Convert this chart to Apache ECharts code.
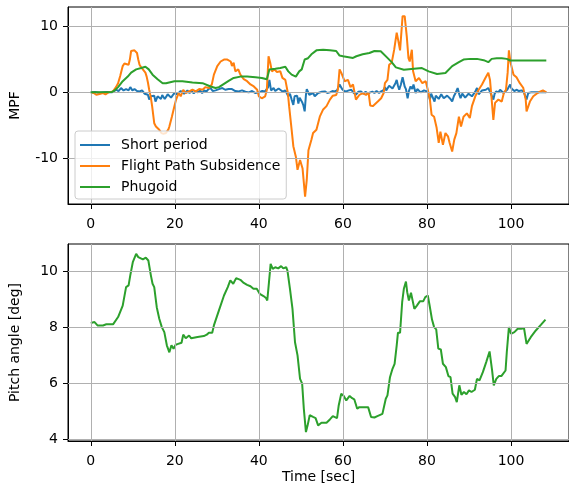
<!DOCTYPE html>
<html>
<head>
<meta charset="utf-8">
<script src="https://cdn.jsdelivr.net/npm/echarts@6/dist/echarts.min.js"></script>
<style>
html,body{margin:0;padding:0;background:#fff;}
#chart{width:569px;height:487px;}
</style>
</head>
<body>
<div id="chart"></div>
<script>
// ---- Data ----
var seriesNames = ['Short period', 'Flight Path Subsidence', 'Phugoid'];

var spT = [0,1,2,3,4,5,6.1,6.6,7.2,7.8,8.4,9.0,9.4,9.9,10.4,11.0,11.6,12.2,12.8,13.6,13.9,14.3,14.7,15.1,15.4,15.9,16.3,16.7,17.0,17.3,17.6,17.9,18.3,18.7,19.1,19.5,19.9,20.3,20.6,21.0,21.4,21.8,22.2,22.6,23.0,23.5,24.0,24.5,25.0,25.5,26.0,26.5,27.0,27.5,28.0,28.5,29.0,29.7,30.5,31.3,32.0,32.8,33.6,34.4,35.2,36.0,36.8,37.6,38.4,39.2,40.0,40.8,41.5,42.2,42.5,42.9,43.5,43.9,44.3,44.7,45.1,45.7,46.3,46.7,47.0,47.4,47.8,48.2,48.5,48.8,49.1,49.4,49.7,50.0,50.3,50.6,50.9,51.2,51.4,51.7,52.0,52.4,52.9,53.3,53.7,54.1,54.5,55.0,55.7,56.3,56.9,57.5,58.0,58.6,59.2,59.8,60.3,60.8,61.4,62.0,62.6,63.1,63.7,64.3,64.9,65.4,65.9,66.5,67.0,67.5,68.0,68.6,69.1,69.6,70.0,70.3,70.6,71.0,71.4,71.8,72.2,72.5,72.8,73.1,73.4,73.8,74.2,74.7,75.0,75.4,75.7,76.1,76.5,76.8,77.3,77.7,78.1,78.5,78.9,79.3,79.7,80.2,80.7,81.0,81.3,81.8,82.1,82.4,82.8,83.1,83.4,83.6,84.0,84.4,84.8,85.2,85.6,86.0,86.4,86.8,87.3,87.7,88.0,88.4,88.7,89.1,89.5,89.9,90.3,90.7,91.1,91.5,91.9,92.3,92.7,93.1,93.5,94.0,94.6,95.0,95.4,95.8,96.1,96.5,97.0,97.4,97.8,98.2,98.6,99.1,99.5,99.8,100.1,100.4,100.8,101.3,101.9,102.5,103.0,103.3,103.7,104.1,104.7,105.3,106.5,107.5,108.4];
var spV = [0,0.05,-0.05,0,0.05,0,0.4,0.2,0.66,0.3,0.5,0.3,0.8,0.3,0.5,0.2,0.15,0.3,-0.2,-0.36,-1.1,-0.6,-0.9,-0.5,-1.4,-0.6,-0.9,-1.0,-0.4,-0.5,-1.0,-1.0,-0.3,-0.36,-0.8,-0.6,-0.1,0.15,-0.3,-0.2,0.2,0.4,-0.2,0,0.3,-0.1,0.2,-0.15,0.2,0,0.3,-0.1,0.3,0.1,0.5,0.66,0.2,0.3,0.5,0.66,0.4,0.5,0.5,0.2,0.15,0.3,0.1,0,0.2,-0.1,0,0.2,0.15,0.8,1.9,0.3,0.66,0.2,0.3,0.6,0.4,0.1,0.3,0.1,-0.6,-0.2,-1.1,-1.9,-0.6,-0.9,-0.5,-1.7,-0.8,-1.1,-1.5,-2.0,-2.9,-0.4,0.5,0.3,-0.36,-0.6,-0.1,-0.6,-0.4,-0.1,-0.2,0.1,0.15,-0.1,0,0.2,0.15,0.3,1.2,0.5,0.2,0.15,0.3,0.4,-0.1,-0.36,0.1,0.15,-0.2,0.1,-0.2,0,0.1,-0.1,0.2,-0.1,0.15,0.3,0.8,0.3,0.5,1.0,1.2,0.6,0.8,1.4,1.9,1.0,0.4,1.2,2.3,0.9,0.5,-0.9,0.2,0.9,0.5,1.2,-0.1,0.5,0.4,0,0.15,0.3,0,0.1,-1.1,-0.2,-0.36,-1.4,-0.5,-0.36,-1.0,-1.1,-0.3,-0.6,-0.9,-1.1,-0.5,-0.36,-1.0,-1.4,-0.6,-0.1,0.66,-0.3,-0.9,-0.2,-0.36,-0.8,-0.6,-0.2,-0.1,-0.6,-0.5,0.1,0.66,-0.3,-0.2,0.3,0.15,0.4,0.66,0.1,0.3,-1.1,-0.2,0.15,0,0.4,0.3,-0.1,-0.36,0.4,0.7,1.2,0.6,0.3,0.2,0.4,0.2,0.3,0.1,0.15,-1.1,-0.1,0,0,0,0,0];

var fpsT = [0,0.7,1.3,2.1,2.9,3.5,4.2,5.3,6.0,6.5,7.0,7.6,8.0,8.4,9.0,9.3,9.6,10.0,10.4,11.0,11.3,11.6,12.0,12.4,13.0,13.3,13.6,13.9,14.3,14.6,15.1,15.5,16.3,16.8,17.3,17.9,18.5,18.7,19.3,19.9,20.3,20.9,21.4,22.0,22.6,23.4,24.2,25.0,25.8,26.6,27.3,28.1,28.8,29.3,30.1,30.9,31.7,32.5,33.3,33.6,34.0,34.4,35.1,35.6,36.4,37.2,38.0,38.8,39.6,40.0,40.7,41.5,41.9,42.3,42.7,43.1,43.7,44.3,45.1,45.6,46.3,46.9,47.2,47.8,48.2,48.8,49.2,49.8,50.4,51.0,51.4,51.8,52.5,52.9,53.7,54.5,55.3,56.1,56.9,57.6,58.4,58.8,59.2,59.6,60.4,61.2,61.8,62.4,63.1,63.9,64.7,65.5,66.1,66.5,67.1,68.3,69.1,69.7,70.0,70.6,71.0,71.6,72.2,72.8,73.2,73.6,74.2,74.7,75.2,75.6,75.9,76.4,76.7,77.3,78.1,78.9,79.7,80.2,80.7,81.1,81.7,82.3,82.8,83.2,83.8,84.4,85.0,85.4,86.0,86.5,87.0,87.6,88.1,88.7,89.5,90.2,90.7,91.5,92.3,93.1,93.9,94.6,95.0,95.4,95.8,96.2,97.0,97.8,98.3,98.8,99.2,99.5,99.9,100.6,101.3,102.1,102.9,103.5,103.7,104.5,105.3,106.1,106.9,107.6,108.4];
var fpsV = [0,-0.1,-0.36,-0.25,-0.1,-0.3,0,0.15,0.8,1.4,2.5,4.0,4.4,4.5,4.2,5.0,6.3,6.1,6.4,6.0,5.0,4.2,3.8,3.5,3.0,2.4,1.5,0.4,-0.8,-2.1,-4.7,-5.2,-5.7,-6.2,-6.3,-6.2,-5.6,-5.2,-3.7,-2.1,-1.1,-0.1,-0.6,0.4,-0.1,0.15,0.4,0.15,0.5,0.4,0.8,0.66,1.2,2.7,4.0,4.7,5.0,5.0,4.7,4.0,4.5,3.2,3.5,2.7,2.0,1.7,1.2,0.9,0.4,-0.6,-0.9,-0.6,0.4,5.5,4.5,3.2,3.5,3.1,3.2,2.2,1.9,-0.1,-2.1,-5.7,-8.2,-9.8,-11.8,-10.3,-11.6,-15.9,-13.3,-8.8,-7.2,-6.2,-5.7,-3.7,-2.6,-2.1,-1.1,-0.5,-0.4,0.4,3.5,3.0,1.7,1.9,0.8,1.2,-1.1,-0.4,-0.1,-0.4,0,-2.0,-2.1,-1.4,-0.9,-0.1,1.4,1.9,4.2,4.5,6.5,9.1,7.8,6.4,11.6,11.6,8.5,5.2,4.7,6.5,3.2,1.7,2.2,1.4,1.7,0.4,-1.1,-3.4,-3.7,-5.4,-7.7,-6.0,-8.0,-6.2,-6.7,-7.7,-9.0,-7.2,-6.2,-3.7,-5.2,-3.7,-3.2,-3.9,-2.1,-0.6,0.4,1.2,2.2,3.0,1.9,-1.1,-4.2,-1.6,-1.1,-1.4,-0.1,0.4,3.0,6.4,4.5,2.7,2.3,1.4,0.7,-1.1,-2.9,-1.4,-0.6,-0.2,0.1,0.3,0];

var phT = [0,5.0,5.7,6.5,7.6,8.8,9.6,10.8,12.0,13.0,13.8,14.7,15.9,17.1,17.9,19.9,21.8,24.2,26.6,28.5,29.7,30.5,31.7,32.9,34.0,35.6,37.2,39.2,40.7,41.9,42.5,43.9,45.1,46.3,47.0,47.8,48.8,49.6,50.2,50.9,51.7,52.5,53.7,55.3,56.9,58.4,59.2,60.0,62.4,63.2,64.7,66.3,67.5,69.0,70.6,71.6,72.6,74.5,76.9,78.8,80.4,82.4,84.4,86.0,87.6,88.7,90.3,91.9,93.5,94.6,95.4,96.6,97.8,99.0,99.8,108.4];
var phV = [0,0.05,0.3,0.8,1.7,2.4,3.0,3.5,3.7,3.9,3.5,2.7,2.0,1.4,1.4,1.7,1.7,1.5,1.4,0.9,0.66,0.8,1.3,1.8,2.2,2.4,2.4,2.3,2.2,2.0,3.5,3.6,3.7,3.9,3.2,2.7,2.4,3.2,3.5,5.0,5.2,5.8,6.4,6.5,6.4,6.3,5.6,5.5,5.25,5.5,5.8,6.0,6.3,6.26,5.25,4.6,3.8,3.45,3.6,3.7,3.2,2.8,2.95,4.0,4.6,5.0,5.1,5.1,4.9,4.6,5.1,5.2,5.2,5.1,4.85,4.85];

var pitchT = [0,0.9,1.6,2.9,3.7,5.3,6.5,7.6,8.4,9.0,9.4,10.0,10.8,11.3,12.4,13.1,13.7,14.3,14.7,15.1,15.7,16.3,16.9,17.5,18.1,18.7,19.2,19.7,20.2,20.8,21.6,22.0,22.6,23.4,23.9,25.4,26.9,27.6,28.1,28.9,29.3,30.5,31.7,32.6,33.2,33.9,34.6,35.6,36.4,37.2,38.0,38.7,39.5,40.2,41.1,41.7,42.0,42.4,42.8,43.3,43.9,44.6,45.3,45.8,46.5,46.8,47.4,48.0,48.6,49.2,49.8,50.3,50.7,51.2,51.6,52.1,52.9,53.5,54.1,54.9,56.1,56.9,57.6,58.0,58.6,59.0,59.6,60.2,60.8,61.6,62.2,62.7,63.4,63.9,64.7,65.5,66.0,66.7,67.5,68.2,69.4,70.2,70.6,71.2,71.8,72.3,72.8,73.1,73.6,74.1,74.5,75.0,75.3,75.7,76.2,77.0,77.6,78.3,79.1,79.6,80.2,80.6,81.2,81.7,82.2,82.7,83.3,83.8,84.5,85.1,85.6,86.1,86.7,87.1,87.7,88.2,88.8,89.4,90.0,90.6,91.4,91.9,92.5,93.3,94.1,94.9,95.5,95.9,96.5,97.1,97.7,98.0,98.7,99.0,99.5,100.0,100.8,101.6,102.4,103.1,103.7,104.7,105.9,107.1,108.2];
var pitchV = [8.15,8.18,8.06,8.06,8.1,8.1,8.36,8.77,9.43,9.49,9.85,10.32,10.62,10.5,10.42,10.48,10.38,9.85,9.55,9.43,8.71,8.3,8.0,7.82,7.35,7.1,7.35,7.23,7.37,7.4,7.44,7.73,7.6,7.7,7.6,7.65,7.68,7.73,7.8,7.8,8.06,8.6,9.13,9.43,9.67,9.55,9.75,9.69,9.58,9.51,9.46,9.37,9.37,9.19,9.11,9.04,8.95,9.6,10.26,10.08,10.14,10.1,10.18,10.1,10.14,10.02,9.37,8.65,7.46,6.99,6.15,5.98,5.08,4.25,4.49,4.85,4.79,4.75,4.49,4.58,4.58,4.7,4.82,4.85,4.75,5.2,5.62,5.54,5.38,5.54,5.46,5.42,5.08,5.14,5.14,5.14,5.14,4.79,4.77,4.82,4.9,5.44,5.56,6.21,6.51,6.69,7.35,7.8,7.8,8.89,9.37,9.63,9.25,8.95,9.23,8.65,8.77,8.92,8.92,9.07,9.13,8.8,8.27,8.0,7.92,7.23,7.2,6.69,6.57,6.25,6.21,5.62,5.5,5.32,5.92,5.58,5.68,5.6,5.74,5.68,5.76,6.15,6.1,6.39,6.75,7.13,6.45,5.92,6.15,6.25,6.25,6.27,6.45,7.11,8.0,7.76,7.82,7.94,7.94,7.96,7.4,7.64,7.88,8.08,8.27];

var xTicks = [0, 20, 40, 60, 80, 100];
var topYTicks = [-10, 0, 10];
var bottomYTicks = [4, 6, 8, 10];

// ---- Build ----
function zip(t, v) { return t.map(function (x, i) { return [x, v[i]]; }); }
var colors = ['#1f77b4', '#ff7f0e', '#2ca02c'];
var FONT = 'DejaVu Sans';

function xAxisCfg(gridIndex, name) {
  return {
    type: 'value', gridIndex: gridIndex, min: -5.42, max: 113.8,
    name: name || '', nameLocation: 'middle', nameGap: 29,
    nameTextStyle: { fontFamily: FONT, fontSize: 14, color: '#000' },
    axisLine: { show: true, onZero: false, lineStyle: { color: '#000', width: 1 } },
    axisTick: { show: true, inside: false, length: 5, customValues: xTicks, lineStyle: { color: '#000', width: 1 } },
    axisLabel: { customValues: xTicks, margin: 13, fontFamily: FONT, fontSize: 14, color: '#000' },
    splitLine: { show: false }
  };
}
function yAxisCfg(gridIndex, min, max, ticks, name) {
  return {
    type: 'value', gridIndex: gridIndex, min: min, max: max,
    name: name, nameLocation: 'middle', nameGap: 46, nameRotate: 90,
    nameTextStyle: { fontFamily: FONT, fontSize: 14, color: '#000' },
    axisLine: { show: true, onZero: false, lineStyle: { color: '#000', width: 1 } },
    axisTick: { show: true, inside: false, length: 5, customValues: ticks, lineStyle: { color: '#000', width: 1 } },
    axisLabel: { customValues: ticks, margin: 10, fontFamily: FONT, fontSize: 14, color: '#000' },
    splitLine: { show: false }
  };
}
// grid lines as markLines built from tick arrays
function gridLines(xt, yt) {
  var d = [];
  xt.forEach(function (x) { d.push({ xAxis: x }); });
  yt.forEach(function (y) { d.push({ yAxis: y }); });
  return {
    silent: true, symbol: 'none', label: { show: false },
    lineStyle: { color: '#b0b0b0', width: 1, type: 'solid' },
    data: d, animation: false
  };
}

var series = [
  { name: 'grid1', type: 'line', xAxisIndex: 0, yAxisIndex: 0, data: [], markLine: gridLines(xTicks, topYTicks), z: 1 },
  { name: 'grid2', type: 'line', xAxisIndex: 1, yAxisIndex: 1, data: [], markLine: gridLines(xTicks, bottomYTicks), z: 1 },
  { name: seriesNames[0], type: 'line', xAxisIndex: 0, yAxisIndex: 0, data: zip(spT, spV), showSymbol: false, symbol: 'none', lineStyle: { width: 2, color: colors[0] }, itemStyle: { color: colors[0] }, z: 3 },
  { name: seriesNames[1], type: 'line', xAxisIndex: 0, yAxisIndex: 0, data: zip(fpsT, fpsV), showSymbol: false, symbol: 'none', lineStyle: { width: 2, color: colors[1] }, itemStyle: { color: colors[1] }, z: 4 },
  { name: seriesNames[2], type: 'line', xAxisIndex: 0, yAxisIndex: 0, data: zip(phT, phV), showSymbol: false, symbol: 'none', lineStyle: { width: 2, color: colors[2] }, itemStyle: { color: colors[2] }, z: 5 },
  { name: 'Pitch angle', type: 'line', xAxisIndex: 1, yAxisIndex: 1, data: zip(pitchT, pitchV), showSymbol: false, symbol: 'none', lineStyle: { width: 2, color: colors[2] }, itemStyle: { color: colors[2] }, z: 3 }
];

var option = {
  animation: false,
  backgroundColor: '#fff',
  textStyle: { fontFamily: FONT },
  grid: [
    { left: 68, top: 7, width: 506, height: 197, show: true, borderColor: '#000', borderWidth: 1, backgroundColor: 'transparent', containLabel: false },
    { left: 68, top: 244, width: 506, height: 197, show: true, borderColor: '#000', borderWidth: 1, backgroundColor: 'transparent', containLabel: false }
  ],
  xAxis: [xAxisCfg(0, ''), xAxisCfg(1, 'Time [sec]')],
  yAxis: [yAxisCfg(0, -17, 13, topYTicks, 'MPF'), yAxisCfg(1, 3.93, 10.97, bottomYTicks, 'Pitch angle [deg]')],
  legend: {
    data: seriesNames,
    orient: 'vertical', left: 75, top: 131,
    padding: [7, 6, 5, 5], itemGap: 7, itemWidth: 30, itemHeight: 2, icon: 'rect',
    backgroundColor: 'rgba(255,255,255,0.8)', borderColor: '#cccccc', borderWidth: 1, borderRadius: 3,
    textStyle: { fontFamily: FONT, fontSize: 14, color: '#000', lineHeight: 14, padding: [0, 0, 0, 6] },
    z: 10
  },
  series: series
};

var chart = echarts.init(document.getElementById('chart'), null, { renderer: 'canvas' });
chart.setOption(option);
</script>
</body>
</html>
